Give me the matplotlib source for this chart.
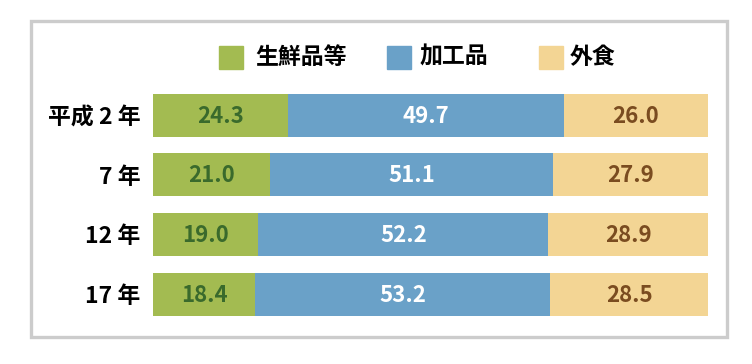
import matplotlib
matplotlib.use('Agg')
import matplotlib.pyplot as plt
from matplotlib.patches import Rectangle
import numpy as np

plt.rcParams['font.family'] = ['Noto Sans CJK JP', 'DejaVu Sans']

years = ['平成 2 年', '7 年', '12 年', '17 年']
series = ['生鮮品等', '加工品', '外食']
fresh = [24.3, 21.0, 19.0, 18.4]
processed = [49.7, 51.1, 52.2, 53.2]
eating_out = [26.0, 27.9, 28.9, 28.5]

colors = ['#a3bb51', '#6aa1c8', '#f3d594']
text_colors = ['#3a6a2c', '#ffffff', '#7a4c20']

W, H = 752, 364
fig = plt.figure(figsize=(W / 100, H / 100), dpi=100)
ax = fig.add_axes([153 / W, 1 - 324 / H, 555 / W, 238.8 / H])

y = np.arange(len(years))
left = np.zeros(len(years))
for vals, name, col, tcol in zip([fresh, processed, eating_out], series, colors, text_colors):
    vals = np.array(vals)
    ax.barh(y, vals, left=left, height=0.72, color=col, label=name)
    for yi, l, v in zip(y, left, vals):
        ax.text(l + v / 2, yi + 0.02, f'{v:.1f}', ha='center', va='center',
                fontsize=16, fontweight='bold', color=tcol)
    left += vals

ax.set_xlim(0, 100)
ax.set_ylim(3.5, -0.5)
ax.set_yticks(y)
ax.set_yticklabels(years, fontsize=16.5, fontweight='bold')
ax.tick_params(axis='y', length=0, pad=9)
ax.set_xticks([])
for s in ax.spines.values():
    s.set_visible(False)

# legend, laid out by hand
leg_x = [219, 387, 539]
leg_text_x = [255, 420, 570]
for x0, tx, name, col in zip(leg_x, leg_text_x, series, colors):
    fig.patches.append(Rectangle((x0 / W, 1 - 69 / H), 24 / W, 23 / H,
                                 transform=fig.transFigure, color=col))
    fig.text(tx / W, 1 - 57 / H, name, ha='left', va='center',
             fontsize=16.5, fontweight='bold')

# grey frame around the chart
fig.patches.append(Rectangle((31 / W, 1 - 337 / H), 696 / W, 316 / H,
                             transform=fig.transFigure, fill=False,
                             edgecolor='#cccccc', linewidth=2.4))

fig.savefig('out.png', dpi=100)
